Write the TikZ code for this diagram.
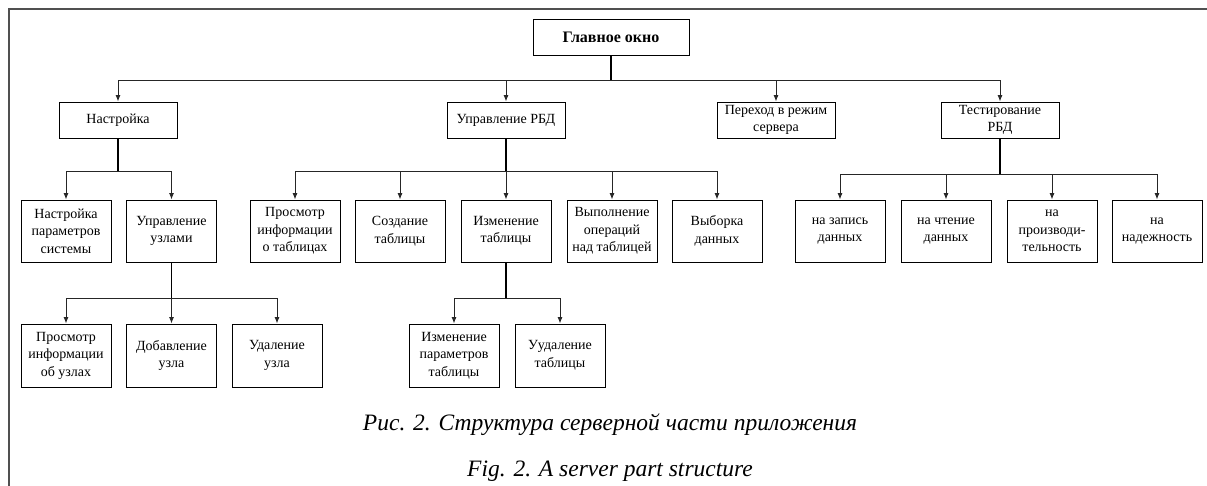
\documentclass[tikz,border=0pt]{standalone}
\usepackage{fontspec}
\setmainfont{Liberation Serif}
\usetikzlibrary{arrows.meta}
\definecolor{framegray}{HTML}{505050}
\begin{document}
\begin{tikzpicture}[x=1pt,y=-1pt,
  box/.style={draw=black, line width=0.9pt, align=center, inner sep=0pt, font=\fontsize{14}{17.5}\selectfont},
  lone/.style={box, minimum width=118pt, minimum height=36pt},
  ltwo/.style={box, minimum width=90pt, minimum height=62pt},
  link/.style={draw=black!85, line width=0.9pt, -{Latex[length=6.5pt,width=5pt]}},
  trunk/.style={draw=black, line width=1.6pt},
  framed/.style={draw=framegray, line width=1.5pt},
  captext/.style={font=\fontsize{23.5}{28}\selectfont\itshape, anchor=base, inner sep=0pt}]
\useasboundingbox (0,0) rectangle (1207,486);
\draw[framed] (1207,9) -- (9,9) -- (9,486);

% level 0
\node[box, minimum width=156pt, minimum height=36pt, font=\fontsize{16}{19}\selectfont\bfseries] (main) at (611,37) {Главное окно};

% level 1
\node[lone] (nastr) at (118,120) {Настройка};
\node[lone] (upr) at (506,120) {Управление РБД};
\node[lone] (per) at (776,120) {Переход в режим\\сервера};
\node[lone] (test) at (1000,120) {Тестирование\\РБД};

% level 2
\node[ltwo] (nparam) at (66,231) {Настройка\\параметров\\системы};
\node[ltwo] (uzly) at (171.5,231) {Управление\\узлами};
\node[ltwo] (prosm) at (295,231) {Просмотр\\информации\\о таблицах};
\node[ltwo] (sozd) at (400,231) {Создание\\таблицы};
\node[ltwo] (izm) at (506,231) {Изменение\\таблицы};
\node[ltwo] (vyp) at (612,231) {Выполнение\\операций\\над таблицей};
\node[ltwo] (vyb) at (717,231) {Выборка\\данных};
\node[ltwo] (zap) at (840,231) {на запись\\данных};
\node[ltwo] (cht) at (946,231) {на чтение\\данных};
\node[ltwo] (proizv) at (1052,231) {на\\производи-\\тельность};
\node[ltwo] (nad) at (1157,231) {на\\надежность};

% level 3
\node[ltwo, minimum height=63pt] (prosmu) at (66,355.5) {Просмотр\\информации\\об узлах};
\node[ltwo, minimum height=63pt] (dob) at (171.5,355.5) {Добавление\\узла};
\node[ltwo, minimum height=63pt] (udu) at (277,355.5) {Удаление\\узла};
\node[ltwo, minimum height=63pt] (izmp) at (454,355.5) {Изменение\\параметров\\таблицы};
\node[ltwo, minimum height=63pt] (udt) at (560,355.5) {Уудаление\\таблицы};

% junctions
\coordinate (j0) at (611,80);
\coordinate (j1) at (118,171);
\coordinate (j2) at (506,171);
\coordinate (j3) at (1000,174);
\coordinate (j4) at (171.5,298);
\coordinate (j5) at (506,298);

% connectors
\draw[trunk] (main.south) -- (j0);
\draw[link] (j0) -| (nastr.north);
\draw[link] (j0) -| (upr.north);
\draw[link] (j0) -| (per.north);
\draw[link] (j0) -| (test.north);

\draw[trunk] (nastr.south) -- (j1);
\draw[link] (j1) -| (nparam.north);
\draw[link] (j1) -| (uzly.north);

\draw[trunk] (upr.south) -- (j2);
\draw[link] (j2) -| (prosm.north);
\draw[link] (j2) -| (sozd.north);
\draw[link] (j2) -- (izm.north);
\draw[link] (j2) -| (vyp.north);
\draw[link] (j2) -| (vyb.north);

\draw[trunk] (test.south) -- (j3);
\draw[link] (j3) -| (zap.north);
\draw[link] (j3) -| (cht.north);
\draw[link] (j3) -| (proizv.north);
\draw[link] (j3) -| (nad.north);

\draw[trunk] (uzly.south) -- (j4);
\draw[link] (j4) -| (prosmu.north);
\draw[link] (j4) -- (dob.north);
\draw[link] (j4) -| (udu.north);

\draw[trunk] (izm.south) -- (j5);
\draw[link] (j5) -| (izmp.north);
\draw[link] (j5) -| (udt.north);

% captions
\node[captext] (cap1) at (610,430) {Рис. 2. Структура серверной части приложения};
\node[captext] (cap2) at (610,476) {Fig. 2. A server part structure};
\end{tikzpicture}
\end{document}
